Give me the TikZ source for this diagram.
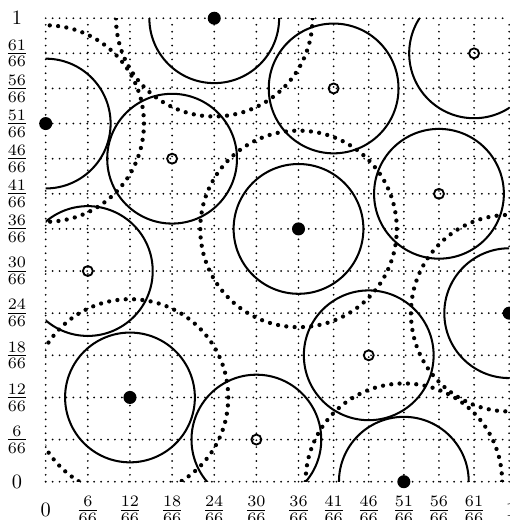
\documentclass[tikz,border=0pt]{standalone}
\usepackage{graphicx}
\begin{document}
\begin{tikzpicture}[x=8cm,y=8cm,
  gridline/.style={line width=0.95pt, dash pattern=on 0pt off 3.4pt, line cap=round},
  ringline/.style={line width=1pt},
  haloline/.style={line width=2.1pt, dash pattern=on 0pt off 4.1pt, line cap=round},
  fullpt/.style={circle, fill=black, inner sep=0pt, minimum size=6.4pt},
  openpt/.style={circle, draw=black, line width=0.9pt, inner sep=0pt, minimum size=4.9pt},
  lab/.style={inner sep=0pt}]
\useasboundingbox (-0.0986,-0.0826) rectangle (0.9996,1.0393);
% grid
\foreach \k in {0,6,12,18,24,30,36,41,46,51,56,61,66} {
  \draw[gridline] (\k/66,0) -- (\k/66,1);
  \draw[gridline] (0,\k/66) -- (1,\k/66);
}
% labels
\node[lab] (x0) at (0,-0.061) {$0$};
\node[lab] (y0) at (-0.062,0) {$0$};
\node[lab] (x1) at (1.004,-0.061) {$1$};
\node[lab] (y1) at (-0.062,1) {$1$};
\foreach \k in {6,12,18,24,30,36,41,46,51,56,61} {
  \node[lab] (xl\k) at (\k/66,-0.061) {\scalebox{1.12}{$\frac{\k}{66}$}};
  \node[lab] (yl\k) at (-0.062,\k/66) {\scalebox{1.12}{$\frac{\k}{66}$}};
}
% points
\coordinate (f1) at (0,51/66);
\coordinate (f2) at (24/66,1);
\coordinate (f3) at (36/66,36/66);
\coordinate (f4) at (12/66,12/66);
\coordinate (f5) at (51/66,0);
\coordinate (f6) at (1,24/66);
\coordinate (o1) at (18/66,46/66);
\coordinate (o2) at (41/66,56/66);
\coordinate (o3) at (61/66,61/66);
\coordinate (o4) at (56/66,41/66);
\coordinate (o5) at (6/66,30/66);
\coordinate (o6) at (46/66,18/66);
\coordinate (o7) at (30/66,6/66);
% circles, clipped to the unit square
\begin{scope}
  \clip (0,0) rectangle (1,1);
  \foreach \p in {f1,f2,f3,f4,f5,f6,o1,o2,o3,o4,o5,o6,o7}
    \draw[ringline] (\p) circle (0.14);
  \foreach \p in {f1,f2,f3,f4,f5,f6}
    \draw[haloline] (\p) circle (0.212);
\end{scope}
% point marks
\foreach \p in {f1,f2,f3,f4,f5,f6}
  \node[fullpt] (n\p) at (\p) {};
\foreach \p in {o1,o2,o3,o4,o5,o6,o7}
  \node[openpt] (n\p) at (\p) {};
\end{tikzpicture}
\end{document}
